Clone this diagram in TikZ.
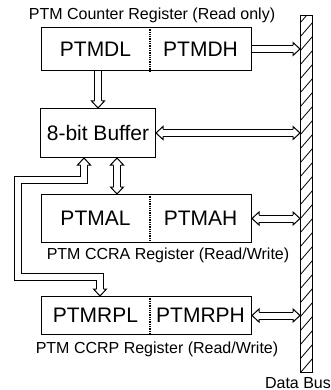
\documentclass[tikz,border=0pt]{standalone}
\usepackage{fontspec}
\setmainfont{Liberation Sans}
\newcommand\ahead[2]{\draw[headst, shift={(#1)}, rotate=#2] (-7pt,3.5pt) -- (-7pt,6.5pt) -- (0pt,0pt) -- (-7pt,-6.5pt) -- (-7pt,-3.5pt);}
\begin{document}
\begin{tikzpicture}[x=1pt,y=-1pt, line width=1pt,
 regbox/.style={draw, line width=1pt, anchor=north west, inner sep=0pt},
 big/.style={font=\fontsize{21}{21}\selectfont, inner sep=0pt},
 small/.style={font=\fontsize{16}{17}\selectfont, inner sep=0pt, anchor=base},
 divider/.style={line width=1.3pt, densely dotted},
 shaft/.style={double=white, double distance=6pt, line width=1pt, line cap=butt, line join=miter},
 headst/.style={draw, fill=white, line width=1pt, line join=miter},
]
\useasboundingbox (0,0) rectangle (331,390);
% data bus
\node[draw, line width=1pt, anchor=north west, minimum width=12pt, minimum height=357pt, inner sep=0pt,
  path picture={\foreach \k in {-1,...,27} \draw[line width=0.8pt] ([yshift=\k*14pt]path picture bounding box.south west) -- ++(12pt,14pt);}]
  (bus) at (300,15) {};
\node[small] (dbl) at (298,388) {Data Bus};
% registers
\node[regbox, minimum width=210pt, minimum height=43pt] (cnt) at (41,27) {};
\node[big] (PTMDL) at (cnt.center -| 95.5,0) {PTMDL};
\node[big] (PTMDH) at (cnt.center -| 200.5,0) {PTMDH};
\draw[divider] (cnt.north -| 150,0) -- (cnt.south -| 150,0);
\node[small] (t1) at (152,20) {PTM Counter Register (Read only)};

\node[regbox, minimum width=115pt, minimum height=49pt] (buf) at (40,108) {};
\node[big] (buft) at (buf.center) {8-bit Buffer};

\node[regbox, minimum width=210pt, minimum height=48pt] (ccra) at (41,194) {};
\node[big] (PTMAL) at (ccra.center -| 95.5,0) {PTMAL};
\node[big] (PTMAH) at (ccra.center -| 200.5,0) {PTMAH};
\draw[divider] (ccra.north -| 150,0) -- (ccra.south -| 150,0);
\node[small] (t2) at (168,259) {PTM CCRA Register (Read/Write)};

\node[regbox, minimum width=210pt, minimum height=38pt] (ccrp) at (41,296) {};
\node[big] (PTMRPL) at (ccrp.center -| 95.5,0) {PTMRPL};
\node[big] (PTMRPH) at (ccrp.center -| 200.5,0) {PTMRPH};
\draw[divider] (ccrp.north -| 150,0) -- (ccrp.south -| 150,0);
\node[small] (t3) at (157,353) {PTM CCRP Register (Read/Write)};

% connectors
\coordinate (c1) at (bus.west |- cnt.east);
\draw[shaft, shorten >=7pt] (cnt.east) -- (c1);
\ahead{c1}{0}

\coordinate (c2s) at (cnt.south -| 98,0);
\coordinate (c2e) at (buf.north -| 98,0);
\draw[shaft, shorten >=7pt] (c2s) -- (c2e);
\ahead{c2e}{-90}

\coordinate (c3) at (bus.west |- buf.east);
\draw[shaft, shorten >=7pt, shorten <=7pt] (buf.east) -- (c3);
\ahead{c3}{0}\ahead{buf.east}{180}

\coordinate (c4s) at (buf.south -| 117,0);
\coordinate (c4e) at (ccra.north -| 117,0);
\draw[shaft, shorten >=7pt, shorten <=7pt] (c4s) -- (c4e);
\ahead{c4s}{90}\ahead{c4e}{-90}

\coordinate (c5) at (bus.west |- ccra.east);
\draw[shaft, shorten >=7pt, shorten <=7pt] (ccra.east) -- (c5);
\ahead{c5}{0}\ahead{ccra.east}{180}

\coordinate (c6) at (bus.west |- ccrp.east);
\draw[shaft, shorten >=7pt, shorten <=7pt] (ccrp.east) -- (c6);
\ahead{c6}{0}\ahead{ccrp.east}{180}

\coordinate (c7s) at (buf.south -| 84,0);
\coordinate (c7e) at (ccrp.north -| 100,0);
\draw[shaft, shorten >=7pt, shorten <=7pt] (c7s) -- (84,180) -- (18,180) -- (18,277) -- (100,277) -- (c7e);
\ahead{c7s}{90}\ahead{c7e}{-90}
\end{tikzpicture}
\end{document}
